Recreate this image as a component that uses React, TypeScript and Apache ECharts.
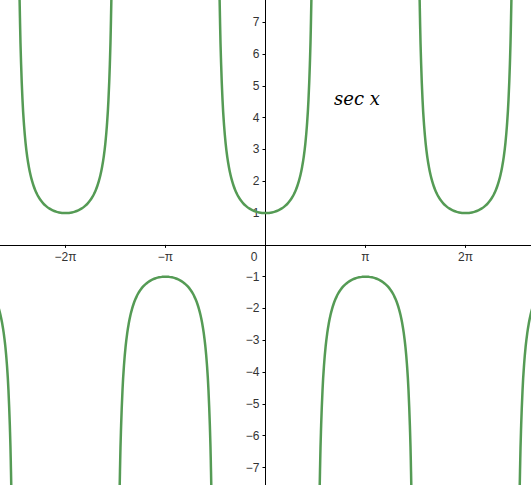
import React, { useEffect, useRef } from "react";
import * as echarts from "echarts";

// Axis window (radians / values)
const xMin = -8.34;
const xMax = 8.34;
const yMin = -7.55;
const yMax = 7.7;

// Tick positions
const xTickValues = [-2 * Math.PI, -Math.PI, 0, Math.PI, 2 * Math.PI];
const xTickLabels = ["−2π", "−π", "0", "π", "2π"];
const yTickValues = [-7, -6, -5, -4, -3, -2, -1, 1, 2, 3, 4, 5, 6, 7];

// One half of a sec-x branch: distance from branch centre, |value|
const profileOffsets = [0, 0.1, 0.2, 0.3, 0.4, 0.5, 0.6, 0.7, 0.8, 0.85, 0.9, 0.95, 1.0, 1.05, 1.1, 1.15, 1.2, 1.25, 1.3, 1.35, 1.4, 1.43, 1.45, 1.47, 1.49];
const profileValues = [1, 1.005, 1.02, 1.047, 1.086, 1.139, 1.212, 1.307, 1.435, 1.515, 1.609, 1.72, 1.851, 2.01, 2.205, 2.45, 2.76, 3.171, 3.738, 4.561, 5.883, 7.13, 8.3, 9.94, 12.0];

// Branch centres (in multiples of π) and their direction (+1 up, -1 down)
const branchCentres = [-3, -2, -1, 0, 1, 2, 3];
const branchSigns = [-1, 1, -1, 1, -1, 1, -1];

const lineColor = "#559b55";
const labelFont = "Liberation Sans, Arial, sans-serif";

function buildBranch(centreMult: number, sign: number): number[][] {
  const c = centreMult * Math.PI;
  const pts: number[][] = [];
  for (let i = profileOffsets.length - 1; i > 0; i--) {
    pts.push([c - profileOffsets[i], sign * profileValues[i]]);
  }
  for (let i = 0; i < profileOffsets.length; i++) {
    pts.push([c + profileOffsets[i], sign * profileValues[i]]);
  }
  return pts;
}

export default function App() {
  const ref = useRef<HTMLDivElement>(null);
  useEffect(() => {
    if (!ref.current) return;
    document.body.style.margin = "0";
    const chart = echarts.init(ref.current, undefined, { renderer: "svg" });
    const series = branchCentres.map((c, i) => ({
      type: "line",
      data: buildBranch(c, branchSigns[i]),
      smooth: true,
      showSymbol: false,
      clip: true,
      lineStyle: { color: lineColor, width: 2.5 },
      silent: true,
    }));
    chart.setOption({
      animation: false,
      backgroundColor: "#ffffff",
      grid: { left: 0, right: 0, top: 0, bottom: 0, containLabel: false, outerBoundsMode: "none" },
      xAxis: {
        type: "value",
        min: xMin,
        max: xMax,
        position: "bottom",
        axisLine: { onZero: false, lineStyle: { color: "#000", width: 1 } },
        axisTick: {
          show: true,
          length: 3,
          lineStyle: { color: "#000" },
          customValues: xTickValues.filter((v) => v !== 0),
        },
        axisLabel: {
          show: true,
          color: "#333",
          fontSize: 12,
          fontFamily: labelFont,
          margin: 6,
          customValues: xTickValues,
          formatter: (v: number) => {
            const idx = xTickValues.findIndex((t) => Math.abs(t - v) < 1e-6);
            const s = idx >= 0 ? xTickLabels[idx] : "";
            return Math.abs(v) < 1e-6 ? "{z|" + s + "}" : s;
          },
          rich: { z: { padding: [0, 23, 0, 0], color: "#333", fontSize: 12, fontFamily: labelFont } },
        },
        splitLine: { show: false },
      },
      yAxis: {
        type: "value",
        min: yMin,
        max: yMax,
        position: "left",
        axisLine: { onZero: false, lineStyle: { color: "#000", width: 1 } },
        axisTick: {
          show: true,
          length: 3,
          lineStyle: { color: "#000" },
          customValues: yTickValues,
        },
        axisLabel: {
          show: true,
          color: "#333",
          fontSize: 12,
          fontFamily: labelFont,
          margin: 6,
          customValues: yTickValues,
          formatter: (v: number) => (v < 0 ? "−" + Math.abs(v) : String(v)),
        },
        splitLine: { show: false },
      },
      graphic: [
        {
          type: "text",
          left: 334,
          top: 89,
          style: {
            text: "sec x",
            fontSize: 18,
            fontStyle: "italic",
            fontFamily: "DejaVu Serif, serif",
            fill: "#000",
          },
        },
      ],
      series,
    });
    // Move the axes onto the origin, computed through the chart's own scales
    const ox = chart.convertToPixel({ xAxisIndex: 0 }, 0) as number;
    const oy = chart.convertToPixel({ yAxisIndex: 0 }, 0) as number;
    const h = chart.getHeight();
    chart.setOption({
      xAxis: { offset: -(h - oy) },
      yAxis: { offset: -ox },
    });
    return () => chart.dispose();
  }, []);
  return <div ref={ref} style={{ position: "absolute", left: 0, top: 0, width: 531, height: 485 }} />;
}
